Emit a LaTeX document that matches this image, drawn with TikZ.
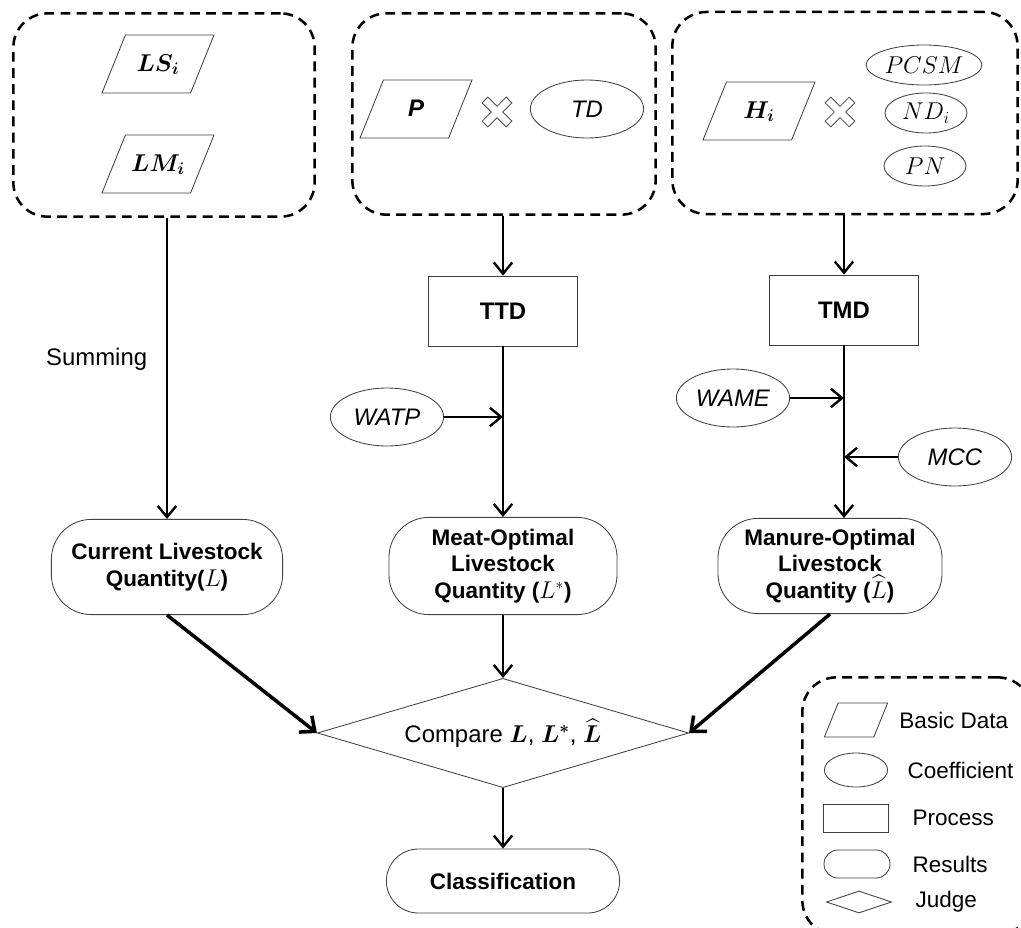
\documentclass[tikz,border=0pt]{standalone}
\usepackage{fontspec}
\setmainfont{Liberation Sans}
\usepackage{amsmath}
\usepackage{bm}
\usetikzlibrary{positioning}
\usetikzlibrary{shapes.geometric}
\usetikzlibrary{arrows.meta}
\tikzset{arrow/.style = {line width=1.7pt,-{Straight Barb[length=2.8mm,width=4.6mm]}}}
\tikzset{bigarrow/.style = {line width=2.5pt,-{Straight Barb[length=3mm,width=5.2mm]}}}
\tikzset{mult/.pic = {\draw[line width=0.6pt, draw=black!70, rotate=45]
  (4,4) -- (4,17) -- (-4,17) -- (-4,4) -- (-17,4) -- (-17,-4) -- (-4,-4)
  -- (-4,-17) -- (4,-17) -- (4,-4) -- (17,-4) -- (17,4) -- cycle;}}

\begin{document}
\begin{tikzpicture}[x=0.025cm, y=-0.025cm,
  font=\fontsize{17}{20}\selectfont,
  group/.style = {draw, line width=1.8pt, dash pattern=on 7pt off 4.5pt,
        rounded corners=0.85cm},
  data/.style = {trapezium, trapezium left angle=68, trapezium right angle=112,
        trapezium stretches body=true, draw=black!75, line width=0.6pt,
        minimum width=2.8cm, text height=0.45cm, text depth=0.1cm,
        inner xsep=1pt, inner ysep=0.45cm},
  coef/.style = {ellipse, draw=black!75, line width=0.6pt,
        minimum width=2.83cm, minimum height=1.45cm, inner sep=1pt},
  small/.style = {minimum width=2.05cm, minimum height=1.0cm},
  proc/.style = {rectangle, draw=black!75, line width=0.6pt,
        minimum width=3.72cm, minimum height=1.75cm},
  result/.style = {rectangle, draw=black!75, line width=0.6pt, rounded corners=1cm,
        align=center, inner sep=2pt, font=\fontsize{16}{19}\selectfont\bfseries},
  judge/.style = {diamond, draw=black!75, line width=0.6pt, inner sep=0pt},
  lgtext/.style = {inner sep=0pt, anchor=west, font=\fontsize{16}{19}\selectfont}
]
\useasboundingbox (0,0) rectangle (1021,928);

% input groups
\node[group, minimum width=7.53cm, minimum height=5.08cm] (grp1) at (164,115) {};
\node[data] (ls) at (158,64) {$\bm{LS_i}$};
\node[data] (lm) at (158,164) {$\bm{LM_i}$};

\node[group, minimum width=7.58cm, minimum height=5.03cm] (grp2) at (504,114) {};
\node[data] (p) at (416,109) {\textbf{\textit{P}}};
\pic at (497,112) {mult};
\node[coef] (td) at (587,109) {\textit{TD}};

\node[group, minimum width=8.63cm, minimum height=5.05cm] (grp3) at (845,113) {};
\node[data] (h) at (759,111) {$\bm{H_i}$};
\pic at (840,112) {mult};
\node[coef, small] (pcsm) at (924,65) {$PCSM$};
\node[coef, small] (nd) at (926,113) {$ND_i$};
\node[coef, small] (pn) at (925,166) {$PN$};

% processing
\node[proc] (ttd) at (503,311) {\textbf{TTD}};
\node[proc] (tmd) at (844,310) {\textbf{TMD}};
\node[coef] (watp) at (387,417) {\textit{WATP}};
\node[coef] (wame) at (733,398) {\textit{WAME}};
\node[coef] (mcc) at (955,457) {\textit{MCC}};

% results
\node[result, minimum width=5.78cm, minimum height=2.38cm] (cur) at (167,567)
  {Current Livestock\\Quantity($L$)};
\node[result, minimum width=5.7cm, minimum height=2.43cm] (meat) at (503,566)
  {Meat-Optimal\\Livestock\\Quantity ($L^*$)};
\node[result, minimum width=5.6cm, minimum height=2.38cm] (manure) at (830,566)
  {Manure-Optimal\\Livestock\\Quantity ($\widehat{L}$)};
\node[judge, aspect=3.4, minimum width=9.28cm, minimum height=2.73cm] (cmp) at (503,733)
  {Compare $\bm{L}$, $\bm{L^*}$, $\bm{\widehat{L}}$};
\node[result, minimum width=5.83cm, minimum height=1.6cm, rounded corners=0.8cm] (cls)
  at (503,881) {Classification};

% connectors
\draw[arrow] (cur.north |- grp1.south) -- node[pos=0.47, left=0.35cm] {Summing} (cur.north);
\draw[arrow] (ttd.north |- grp2.south) -- (ttd);
\draw[arrow] (tmd.north |- grp3.south) -- (tmd);
\draw[arrow] (ttd) -- (ttd.south |- meat.north);
\draw[arrow] (watp) -- (watp -| ttd);
\draw[arrow] (tmd) -- (tmd.south |- manure.north);
\draw[arrow] (wame) -- (wame -| tmd);
\draw[arrow] (mcc) -- (mcc -| tmd);
\draw[bigarrow] (cur.south) -- (cmp.west);
\draw[bigarrow] (manure.south) -- (cmp.east);
\draw[arrow] (meat) -- (cmp);
\draw[arrow] (cmp) -- (cls);

% legend
\node[group, minimum width=5.73cm, minimum height=6.43cm] (lgd) at (917,806) {};
\node[data, minimum width=1.58cm, text height=0pt, text depth=0pt, inner ysep=0.425cm]
  (lgdata) at (856,720) {};
\node[coef, minimum width=1.58cm, minimum height=0.85cm] (lgcoef) at (856,770) {};
\node[proc, minimum width=1.63cm, minimum height=0.7cm] (lgproc) at (856,818) {};
\node[result, minimum width=1.65cm, minimum height=0.7cm, rounded corners=0.35cm] (lgres)
  at (857,864) {};
\node[judge, aspect=3, minimum width=1.63cm, minimum height=0.55cm] (lgjudge) at (859,902) {};
\node[lgtext, right=0.45cm of lgdata] (lgdatatxt) {Basic Data};
\node[lgtext, right=0.48cm of lgcoef] (lgcoeftxt) {Coefficient};
\node[lgtext, right=0.58cm of lgproc] (lgproctxt) {Process};
\node[lgtext, right=0.55cm of lgres] (lgrestxt) {Results};
\node[lgtext, right=0.58cm of lgjudge] (lgjudgetxt) {Judge};
\end{tikzpicture}
\end{document}
